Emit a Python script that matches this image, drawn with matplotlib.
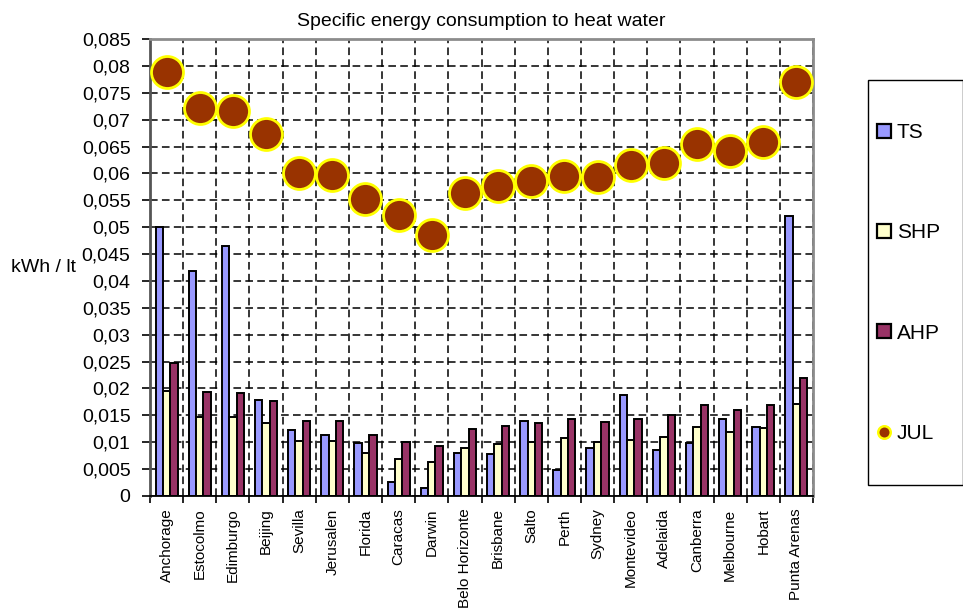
import matplotlib.pyplot as plt
import numpy as np
from matplotlib.ticker import FuncFormatter, MultipleLocator
from matplotlib.lines import Line2D
from matplotlib.patches import Patch, Rectangle

plt.rcParams['font.family'] = ['Liberation Sans', 'DejaVu Sans']

cities = ['Anchorage', 'Estocolmo', 'Edimburgo', 'Beijing', 'Sevilla', 'Jerusalen',
          'Florida', 'Caracas', 'Darwin', 'Belo Horizonte', 'Brisbane', 'Salto',
          'Perth', 'Sydney', 'Montevideo', 'Adelaida', 'Canberra', 'Melbourne',
          'Hobart', 'Punta Arenas']
ts = [0.0501, 0.0419, 0.0465, 0.0179, 0.0122, 0.0114, 0.0099, 0.0026, 0.0014, 0.0080,
      0.0078, 0.0140, 0.0048, 0.0090, 0.0187, 0.0085, 0.0098, 0.0143, 0.0128, 0.0521]
shp = [0.0195, 0.0147, 0.0147, 0.0136, 0.0103, 0.0102, 0.0080, 0.0068, 0.0063, 0.0090,
       0.0096, 0.0100, 0.0107, 0.0100, 0.0105, 0.0110, 0.0129, 0.0119, 0.0126, 0.0171]
ahp = [0.0247, 0.0193, 0.0192, 0.0176, 0.0140, 0.0140, 0.0114, 0.0101, 0.0093, 0.0125,
       0.0131, 0.0136, 0.0143, 0.0137, 0.0143, 0.0150, 0.0170, 0.0160, 0.0169, 0.0220]
jul = [0.0788, 0.0721, 0.0717, 0.0674, 0.0600, 0.0597, 0.0553, 0.0522, 0.0485, 0.0564,
       0.0577, 0.0586, 0.0595, 0.0594, 0.0615, 0.0620, 0.0654, 0.0641, 0.0659, 0.0770]

W, H = 963, 610
fig = plt.figure(figsize=(W/100, H/100), dpi=100)
ax = fig.add_axes([150/W, 1-496/H, 663/W, 457/H])

x = np.arange(len(cities))
w = 1/4.5
bar_kw = dict(edgecolor='black', linewidth=1.4, zorder=2)
ax.bar(x - w, ts, w, color='#9999FF', label='TS', **bar_kw)
ax.bar(x, shp, w, color='#FFFFCC', label='SHP', **bar_kw)
ax.bar(x + w, ahp, w, color='#993366', label='AHP', **bar_kw)
ax.plot(x, jul, linestyle='none', marker='o', markersize=23,
        markerfacecolor='#993300', markeredgecolor='#FFFF00', markeredgewidth=2,
        zorder=4, clip_on=False)

ax.set_xlim(-0.5, len(cities) - 0.5)
ax.set_ylim(0, 0.085)

# axes look
ax.yaxis.set_major_locator(MultipleLocator(0.005))
ax.yaxis.set_major_formatter(FuncFormatter(
    lambda v, p: '0' if abs(v) < 1e-9 else f'{v:.3f}'.rstrip('0').replace('.', ',')))
ax.set_xticks(x)
ax.set_xticklabels(cities, rotation=90, fontsize=11)
ax.set_xticks(np.arange(-0.5, len(cities)), minor=True)
ax.tick_params(axis='x', which='major', length=0, pad=9)
ax.tick_params(axis='x', which='minor', length=5, width=1.2, direction='out')
ax.tick_params(axis='y', length=6, width=1.2, direction='out', labelsize=14, pad=8)

dash = (0, (5, 2.8))
ax.grid(True, axis='x', which='minor', linestyle=dash, color='black', linewidth=1.1, zorder=0)
ax.grid(True, axis='y', which='major', linestyle=dash, color='black', linewidth=1.1, zorder=0)
ax.set_axisbelow(True)

ax.spines['left'].set_color('#555555')
ax.spines['left'].set_linewidth(2)
ax.spines['top'].set_color('#8c8c8c')
ax.spines['top'].set_linewidth(2)
ax.spines['right'].set_color('#8c8c8c')
ax.spines['right'].set_linewidth(2)
ax.spines['bottom'].set_color('black')
ax.spines['bottom'].set_linewidth(1.3)

ax.set_title('Specific energy consumption to heat water', fontsize=14, pad=9)
ax.set_ylabel('kWh / lt', fontsize=14, rotation=0, va='center')
ax.yaxis.set_label_coords(-0.16, 0.5)

# legend box on the right
fig.patches.append(Rectangle((868/W, 1-485/H), 95/W, 405/H, transform=fig.transFigure,
                             facecolor='white', edgecolor='black', linewidth=1.0))
handles = [Patch(facecolor='#9999FF', edgecolor='black', linewidth=1.6, label='TS'),
           Patch(facecolor='#FFFFCC', edgecolor='black', linewidth=1.6, label='SHP'),
           Patch(facecolor='#993366', edgecolor='black', linewidth=1.6, label='AHP'),
           Line2D([], [], linestyle='none', marker='o', markersize=9,
                  markerfacecolor='#993300', markeredgecolor='#FFFF00',
                  markeredgewidth=1.8, label='JUL')]
fig.legend(handles=handles, loc='center left',
           bbox_to_anchor=(877/W, 1-283/H), fontsize=15, frameon=False,
           handlelength=0.65, handleheight=0.65, handletextpad=0.3,
           labelspacing=3.9, borderpad=0, borderaxespad=0)

plt.savefig('out.png', dpi=100)
